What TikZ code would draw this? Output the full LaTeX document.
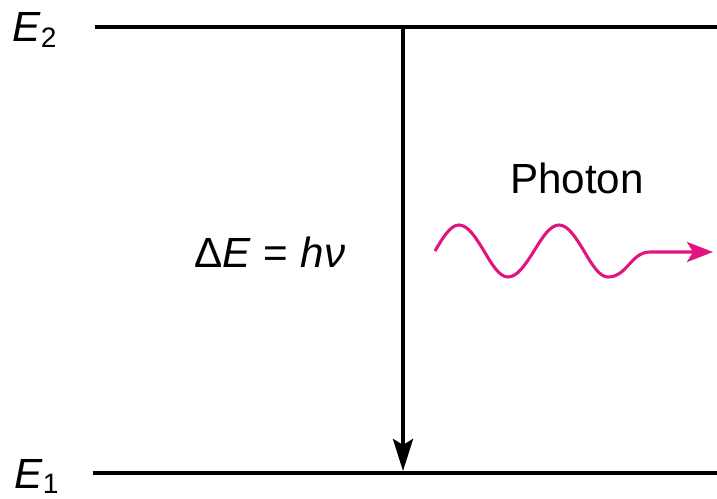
\documentclass[tikz,border=0pt]{standalone}
\usepackage{fontspec}
\setmainfont{Liberation Sans}
\usepackage{xcolor}
\usepackage{tikz}
\usetikzlibrary{arrows.meta,positioning,calc}
\definecolor{photonpink}{RGB}{226,20,128}
\newcommand{\sub}[1]{\raisebox{-0.12em}{\fontsize{20}{24}\selectfont #1}}
\tikzset{
  level/.style={line width=2.4pt, draw=black},
  lbl/.style={inner sep=0pt, font=\fontsize{30}{36}\selectfont},
  transition/.style={-{Stealth[length=8mm,width=5mm,inset=1.5mm]}, line width=2.8pt, draw=black},
  wave/.style={-{Stealth[length=6.5mm,width=5mm,inset=1.5mm]}, line width=2.2pt, draw=photonpink}
}

\begin{document}
\begin{tikzpicture}[x=0.025cm,y=-0.025cm]
  \useasboundingbox (0,0) rectangle (717,499);
  % energy levels
  \coordinate (top-l) at (95,27);
  \coordinate (top-r) at (717,27);
  \coordinate (bot-l) at (93,473);
  \coordinate (bot-r) at (717,473);
  \coordinate (top-x) at (403,27);
  \coordinate (bot-x) at (403,471);
  \node[lbl, anchor=base west] (e2) at (12,42) {\textit{E}\sub{2}};
  \node[lbl, anchor=base west] (e1) at (14,488) {\textit{E}\sub{1}};
  \draw[level] (top-l) -- (top-r);
  \draw[level, line width=3pt] (bot-l) -- (bot-r);
  % emission
  \draw[transition] (top-x) -- (bot-x);
  \node[lbl, anchor=base west] (de) at (194,267) {Δ\textit{E}\hspace{0.3em}=\hspace{0.3em}\textit{hν}};
  \node[lbl, anchor=base] (photon) at (577,193) {Photon};
  \coordinate (w0) at (435,251);
  \coordinate (w1) at (713,252);
  \draw[wave] (w0) sin (459,225) cos (484,251) sin (508,277) cos (534,251)
    sin (559,225) cos (584,251) sin (608,277) to[out=0,in=180] (650,252) -- (w1);
\end{tikzpicture}
\end{document}
